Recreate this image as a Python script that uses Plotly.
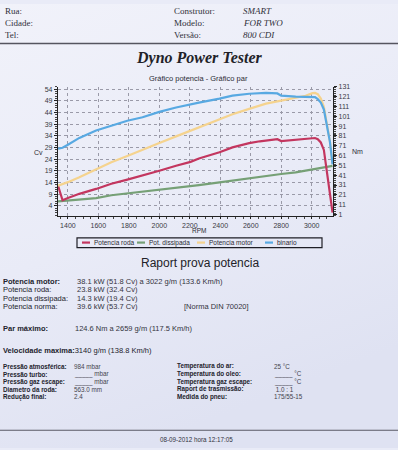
import base64
import plotly.graph_objects as go

# ---------------- data ----------------
rpm = [1335, 1365, 1400, 1475, 1585, 1685, 1790, 1890, 2000, 2110, 2205, 2260, 2395, 2480,
       2590, 2660, 2700, 2775, 2800, 2895, 2960, 3005, 3022, 3040, 3060, 3080, 3100, 3120, 3137]
potencia_roda = [12.7, 6.4, 7.4, 9.2, 11.3, 13.5, 15.3, 17.0, 19.1, 21.2, 22.9, 24.3, 27.0, 29.1,
                 30.9, 31.7, 32.1, 32.6, 31.8, 32.3, 32.7, 33.1, 33.1, 32.6, 31.2, 28.0, 19.0, 9.5, 1.2]
pot_dissipada = [6.0, 6.2, 6.4, 6.8, 7.4, 8.6, 9.4, 10.1, 10.9, 11.6, 12.3, 12.9, 14.1, 14.9,
                 16.0, 16.6, 16.9, 17.6, 17.7, 18.4, 19.2, 19.8, 20.0, 20.2, 20.4, 20.6, 20.8, 21.0, 21.2]
potencia_motor = [12.7, 13.3, 14.2, 16.3, 19.8, 22.7, 25.4, 28.2, 31.0, 33.8, 36.3, 37.8, 41.2, 43.3,
                  45.6, 47.0, 47.8, 48.8, 49.1, 50.1, 51.2, 52.3, 52.4, 51.9, 50.0, 46.5, 39.5, 31.5, 22.0]
binario = [68, 69, 72, 79, 86.5, 91.5, 96.5, 100, 105.5, 110, 113.5, 115, 119, 122,
           124, 124.8, 124.8, 124.3, 122, 121, 121, 121, 120.5, 118.5, 115, 108, 93, 75, 52]

series_names = ["Potencia roda", "Pot. dissipada", "Potencia motor", "binario"]
series_colors = ["#c3365f", "#76a076", "#f5d38e", "#58a9e2"]

x_ticks = [1400, 1600, 1800, 2000, 2200, 2400, 2600, 2800, 3000]
cv_ticks = [4, 9, 14, 19, 24, 29, 34, 39, 44, 49, 54]
nm_ticks = [1, 11, 21, 31, 41, 51, 61, 71, 81, 91, 101, 111, 121, 131]

header_left = ["Rua:", "Cidade:", "Tel:"]
header_mid = ["Construtor:", "Modelo:", "Versão:"]
header_val = ["SMART", "FOR TWO", "800 CDI"]

main_title = "Dyno Power Tester"
chart_title = "Gráfico potencia - Gráfico par"
report_title = "Raport prova potencia"

power_labels = ["Potencia motor:", "Potencia roda:", "Potencia dissipada:", "Potencia norma:"]
power_values = ["38.1 kW (51.8 Cv) a 3022 g/m (133.6 Km/h)", "23.8 kW (32.4 Cv)",
                "14.3 kW (19.4 Cv)", "39.6 kW (53.7 Cv)"]
norma_text = "[Norma DIN 70020]"
par_label = "Par máximo:"
par_value = "124.6 Nm a 2659 g/m (117.5 Km/h)"
vel_label = "Velocidade maxima:"
vel_value = "3140 g/m (138.8 Km/h)"

cond_left_labels = ["Pressão atmosférica:", "Pressão turbo:", "Pressão gaz escape:",
                    "Diametro da roda:", "Redução final:"]
cond_left_values = ["984 mbar", "_____ mbar", "_____ mbar", "563.0 mm", "2.4"]
cond_right_labels = ["Temperatura do ar:", "Temperatura do oleo:", "Temperatura gaz escape:",
                     "Raport de trasmissão:", "Medida do pneu:"]
cond_right_values = ["25 °C", "_____ °C", "_____ °C", " 1.0 : 1", "175/55-15"]
footer_text = "08-09-2012 hora 12:17:05"

# ---------------- layout helpers ----------------
W, H = 398, 450
PAPER = "#e9ebf7"
SANS = "Liberation Sans, Arial, sans-serif"
SERIF = "Liberation Serif, Times New Roman, serif"


def px(x):
    return x / W


def py(y):
    return 1 - y / H


annotations = []
shapes = []


def text(x, y, s, size, family=SANS, color="#2b2b35", anchor="left"):
    annotations.append(dict(x=px(x), y=py(y), xref="paper", yref="paper", text=s,
                            showarrow=False, xanchor=anchor, yanchor="middle",
                            font=dict(family=family, size=size, color=color)))


fig = go.Figure()

order = [1, 0, 2, 3]
data = [potencia_roda, pot_dissipada, potencia_motor, binario]
for i in order:
    fig.add_trace(go.Scatter(x=rpm, y=data[i], mode="lines", name=series_names[i],
                             line=dict(color=series_colors[i], width=2.2),
                             yaxis="y2" if i == 3 else "y", showlegend=False))

X0, X1, Y0, Y1 = 58, 333, 84, 215
axis_font = dict(family=SANS, size=7, color="#3a3a44")

# soft paper-like gradient background
svg = ('<svg xmlns="http://www.w3.org/2000/svg" width="398" height="450">'
       '<defs><linearGradient id="g" x1="0" y1="0" x2="0.35" y2="1">'
       '<stop offset="0" stop-color="#f1f2fa"/><stop offset="0.55" stop-color="#e9ebf7"/>'
       '<stop offset="1" stop-color="#dfe2f2"/></linearGradient></defs>'
       '<rect width="398" height="450" fill="url(#g)"/></svg>')
bg_src = "data:image/svg+xml;base64," + base64.b64encode(svg.encode()).decode()

fig.update_layout(
    width=W, height=H, margin=dict(l=0, r=0, t=0, b=0),
    paper_bgcolor=PAPER, plot_bgcolor="rgba(0,0,0,0)", showlegend=False,
    images=[dict(source=bg_src, xref="paper", yref="paper", x=0, y=1, sizex=1, sizey=1,
                 xanchor="left", yanchor="top", sizing="stretch", layer="below")],
    xaxis=dict(domain=[px(X0), px(X1)], range=[1335, 3140], tickvals=x_ticks,
               showline=True, linecolor="#222", linewidth=1.3, ticks="outside", ticklen=2,
               tickcolor="#222", tickfont=axis_font, showgrid=True, gridcolor="#9a9aa8",
               griddash="dot", gridwidth=1, zeroline=False,
               minor=dict(ticks="outside", ticklen=2, dtick=50, tickcolor="#444", showgrid=False)),
    yaxis=dict(domain=[py(Y1), py(Y0)], range=[-0.35, 55], tickvals=cv_ticks,
               showline=True, linecolor="#222", linewidth=1.3, ticks="outside", ticklen=3,
               tickcolor="#222", tickfont=axis_font, showgrid=True, gridcolor="#9a9aa8",
               griddash="dot", gridwidth=1, zeroline=False,
               minor=dict(ticks="outside", ticklen=2, dtick=1, tickcolor="#444", showgrid=False)),
    yaxis2=dict(overlaying="y", side="right", anchor="x", range=[-0.7, 131], tickvals=nm_ticks,
                showline=True, linecolor="#222", linewidth=1.3, ticks="outside", ticklen=3,
                tickcolor="#222", tickfont=axis_font, showgrid=False, zeroline=False,
                minor=dict(ticks="outside", ticklen=2, dtick=2, tickcolor="#444")),
)

# header
for i, y in enumerate([7, 19, 31]):
    text(3, y, header_left[i], 9, SERIF, "#30303a")
    text(172, y, header_mid[i], 9, SERIF, "#30303a")
    text(241, y, "<i>" + header_val[i] + "</i>", 9, SERIF, "#30303a")
shapes.append(dict(type="line", xref="paper", yref="paper", x0=0, x1=1, y0=py(40), y1=py(40),
                   line=dict(color="#55555f", width=1.5)))

text(200, 55, "<b><i>" + main_title + "</i></b>", 16, SERIF, "#222228", "center")
text(198, 76, chart_title, 7.5, SANS, "#2b2b35", "center")
text(38, 151, "Cv", 7, SANS, "#2b2b35", "center")
text(357, 149, "Nm", 7, SANS, "#2b2b35", "center")
text(199, 229.5, "RPM", 6.5, SANS, "#2b2b35", "center")

# legend box (manual, compact like the original)
shapes.append(dict(type="rect", xref="paper", yref="paper", x0=px(77), x1=px(322),
                   y0=py(247), y1=py(237), line=dict(color="#1e1e26", width=1.2)))
key_x = [82, 137, 197, 265]
for i in range(4):
    shapes.append(dict(type="line", xref="paper", yref="paper", x0=px(key_x[i]),
                       x1=px(key_x[i] + 8), y0=py(241.8), y1=py(241.8),
                       line=dict(color=series_colors[i], width=2.2)))
    text(key_x[i] + 10, 241.8, series_names[i], 6.5, SANS, "#2b2b35")

# report
text(200, 263, report_title, 12, SANS, "#222228", "center")
for i, y in enumerate([281, 289.5, 298, 306.5]):
    lab = "<b>" + power_labels[i] + "</b>" if i == 0 else power_labels[i]
    text(1, y, lab, 7.5, SANS, "#22222c")
    text(75, y, power_values[i], 7.5, SANS, "#33333d")
text(182, 306.5, norma_text, 7.5, SANS, "#33333d")
text(1, 329, "<b>" + par_label + "</b>", 7.5, SANS, "#22222c")
text(73, 329, par_value, 7.5, SANS, "#33333d")
text(1, 351.5, "<b>" + vel_label + "</b>" + vel_value, 7.5, SANS, "#22222c")

for i, y in enumerate([367, 375, 383, 390.5, 398]):
    text(1, y, "<b>" + cond_left_labels[i] + "</b>", 6.3, SANS, "#22222c")
    text(72, y, cond_left_values[i], 6.3, SANS, "#44444e")
    text(175, y, "<b>" + cond_right_labels[i] + "</b>", 6.3, SANS, "#22222c")
    text(272, y, cond_right_values[i], 6.3, SANS, "#44444e")

shapes.append(dict(type="line", xref="paper", yref="paper", x0=0, x1=1, y0=py(432), y1=py(432),
                   line=dict(color="#5a5a66", width=1.2)))
text(196, 441.5, footer_text, 6.3, SANS, "#33333d", "center")

fig.update_layout(annotations=annotations, shapes=shapes)
fig.write_html("out.html",
               config={"displayModeBar": False},
               post_script="document.body.style.margin='0';"
                           "document.body.style.background='#e9ebf7';"
                           "document.body.style.overflow='hidden';")
